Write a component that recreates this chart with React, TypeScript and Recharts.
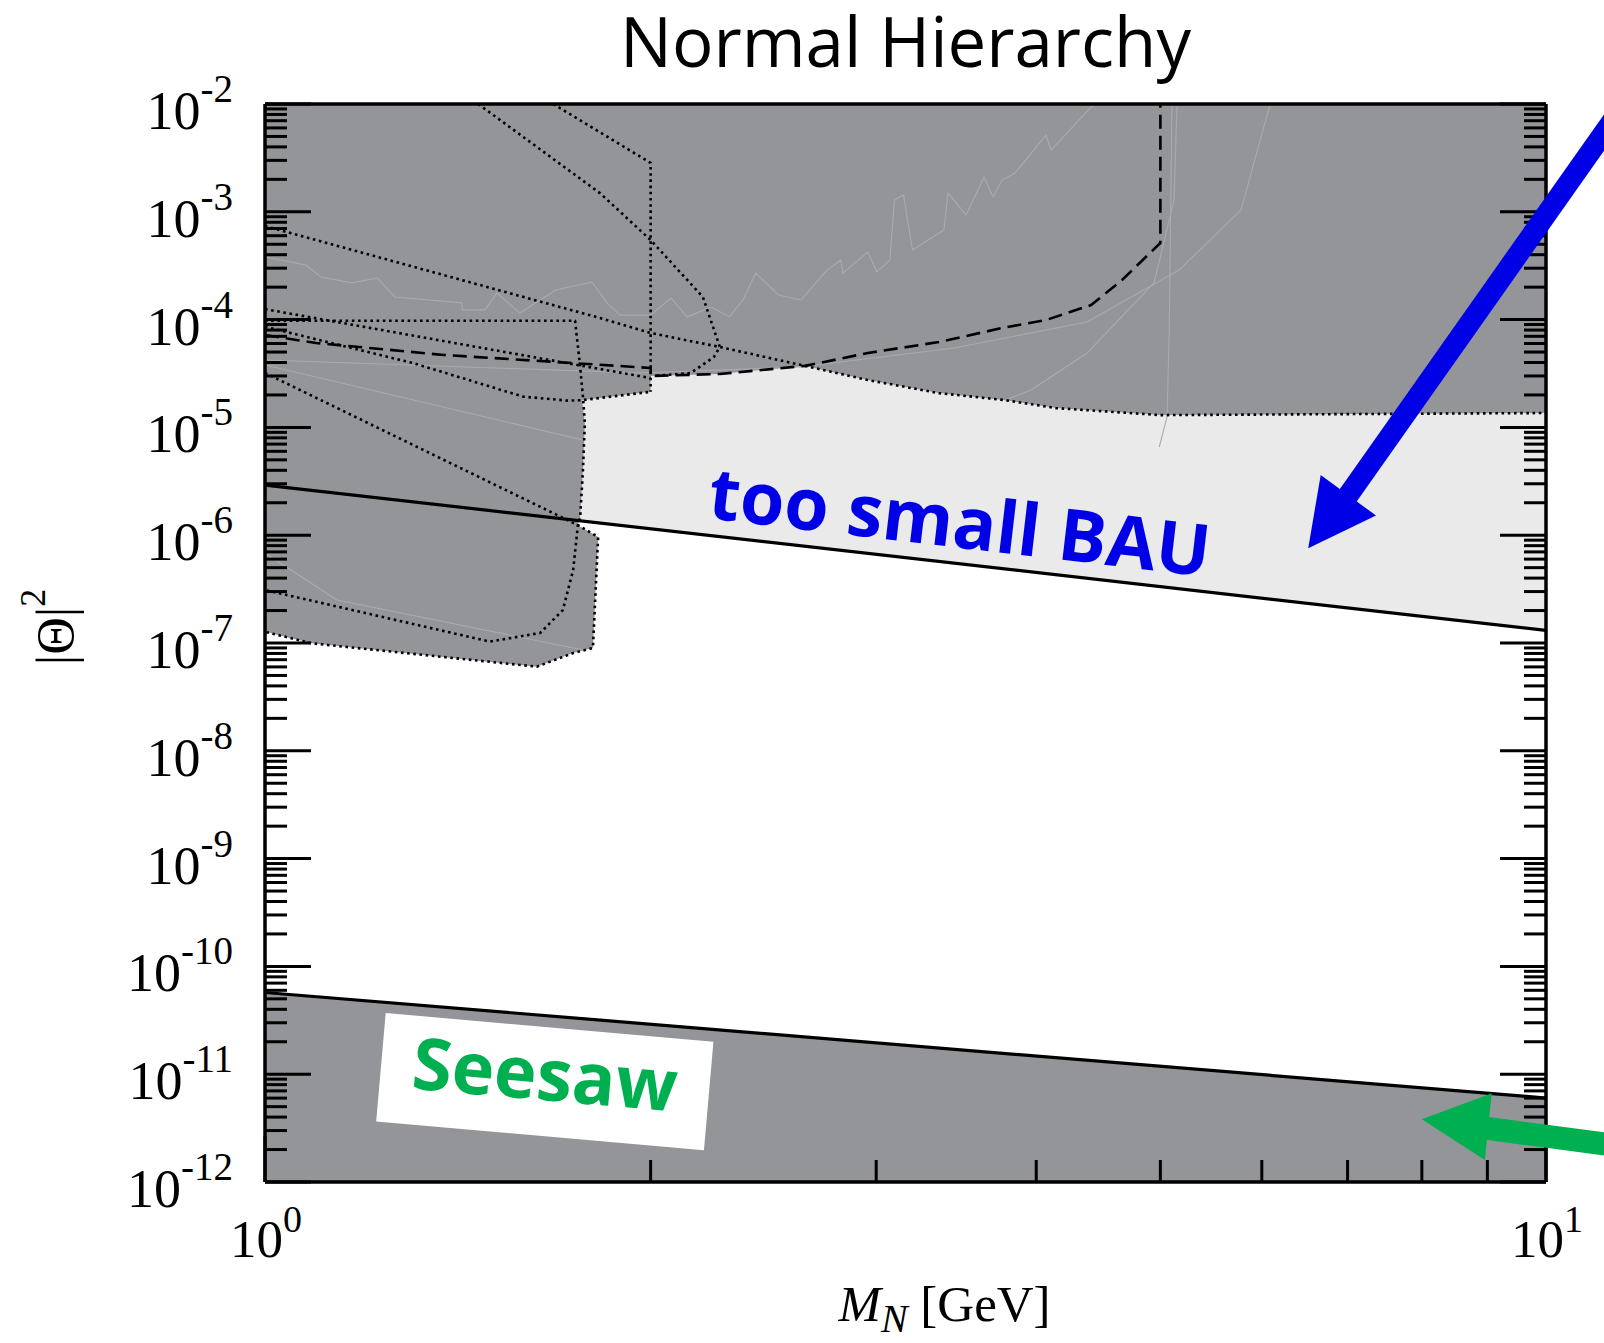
import React from 'react';
import { ScatterChart, Scatter, XAxis, YAxis, ReferenceLine, ReferenceDot, Label } from 'recharts';

type Pt = { x: number; y: number };

// ---------- text ----------
const chartTitle = 'Normal Hierarchy';
const annotationBAU = 'too small BAU';
const annotationSeesaw = 'Seesaw';

// ---------- ticks ----------
const xMajorTicks = [1, 10];
const xTickExponents = ['0', '1'];
const yMajorTicks = [1e-12, 1e-11, 1e-10, 1e-9, 1e-8, 1e-7, 1e-6, 1e-5, 1e-4, 1e-3, 1e-2];
const yTickExponents = ['-12', '-11', '-10', '-9', '-8', '-7', '-6', '-5', '-4', '-3', '-2'];
const minorMultipliers = [2, 3, 4, 5, 6, 7, 8, 9];

// ---------- regions ----------
const seesawLine: Pt[] = [{ x: 1, y: 5.73e-11 }, { x: 10, y: 6.01e-12 }];
const bauLine: Pt[] = [{ x: 1, y: 2.92e-6 }, { x: 10, y: 1.31e-7 }];

const seesawRegion: Pt[] = [
  { x: 1, y: 5.73e-11 }, { x: 10, y: 6.01e-12 }, { x: 10, y: 1e-12 }, { x: 1, y: 1e-12 },
];

const excludedRegion: Pt[] = [
  { x: 1, y: 1e-2 }, { x: 10, y: 1e-2 }, { x: 10, y: 1.36e-5 }, { x: 5.0, y: 1.3e-5 },
  { x: 4.145, y: 1.51e-5 }, { x: 3.782, y: 1.79e-5 }, { x: 3.358, y: 2.08e-5 }, { x: 2.955, y: 2.75e-5 },
  { x: 2.64, y: 3.72e-5 }, { x: 2.265, y: 3.13e-5 }, { x: 2.0, y: 3.0e-5 }, { x: 2.0, y: 2.14e-5 },
  { x: 1.768, y: 1.79e-5 }, { x: 1.777, y: 1.1e-5 }, { x: 1.771, y: 4.03e-6 }, { x: 1.762, y: 1.45e-6 },
  { x: 1.755, y: 1.24e-6 }, { x: 1.82, y: 9.62e-7 }, { x: 1.803, y: 8.99e-8 }, { x: 1.74, y: 8.07e-8 },
  { x: 1.63, y: 6.03e-8 }, { x: 1.0876, y: 9.93e-8 }, { x: 1, y: 1.27e-7 },
];

const tooSmallBauRegion: Pt[] = [
  { x: 1.768, y: 1.79e-5 }, { x: 2.0, y: 2.14e-5 }, { x: 2.0, y: 3.0e-5 }, { x: 2.265, y: 3.13e-5 },
  { x: 2.64, y: 3.72e-5 }, { x: 2.955, y: 2.75e-5 }, { x: 3.358, y: 2.08e-5 }, { x: 3.782, y: 1.79e-5 },
  { x: 4.145, y: 1.51e-5 }, { x: 5.0, y: 1.3e-5 }, { x: 10, y: 1.36e-5 }, { x: 10, y: 1.31e-7 },
  { x: 1.762, y: 1.36e-6 }, { x: 1.771, y: 4.03e-6 }, { x: 1.777, y: 1.1e-5 },
];

// ---------- dotted / dashed bounds ----------
const dottedA: Pt[] = [
  { x: 1.467, y: 1e-2 }, { x: 1.826, y: 1.49e-3 }, { x: 2.0, y: 5.47e-4 }, { x: 2.197, y: 1.62e-4 },
  { x: 2.265, y: 5.57e-5 }, { x: 2.241, y: 4.5e-5 }, { x: 2.15, y: 3.2e-5 }, { x: 2.009, y: 3.0e-5 },
];
const dottedB: Pt[] = [{ x: 1.679, y: 1e-2 }, { x: 2.0, y: 2.84e-3 }, { x: 2.0, y: 2.14e-5 }];
const dottedC: Pt[] = [
  { x: 1, y: 7.38e-4 }, { x: 1.826, y: 1.035e-4 }, { x: 2.0, y: 7.52e-5 }, { x: 2.265, y: 5.57e-5 },
  { x: 2.64, y: 3.72e-5 }, { x: 2.955, y: 2.75e-5 }, { x: 3.358, y: 2.08e-5 }, { x: 3.782, y: 1.79e-5 },
  { x: 4.145, y: 1.51e-5 }, { x: 5.0, y: 1.3e-5 }, { x: 10, y: 1.36e-5 },
];
const dottedD: Pt[] = [{ x: 1, y: 1.25e-4 }, { x: 2.0, y: 2.87e-5 }];
const dottedE: Pt[] = [
  { x: 1, y: 9.77e-5 }, { x: 1.746, y: 9.77e-5 }, { x: 1.762, y: 3.66e-5 }, { x: 1.771, y: 1.91e-5 },
  { x: 1.777, y: 1.1e-5 }, { x: 1.771, y: 4.03e-6 }, { x: 1.762, y: 1.45e-6 }, { x: 1.755, y: 1.24e-6 },
  { x: 1.82, y: 9.62e-7 }, { x: 1.803, y: 8.99e-8 }, { x: 1.74, y: 8.07e-8 }, { x: 1.63, y: 6.03e-8 },
  { x: 1.0876, y: 9.93e-8 }, { x: 1, y: 1.27e-7 },
];
const dottedF: Pt[] = [
  { x: 1, y: 8.59e-5 }, { x: 1.305, y: 3.95e-5 }, { x: 1.59, y: 1.93e-5 }, { x: 1.724, y: 1.77e-5 },
  { x: 1.768, y: 1.79e-5 }, { x: 2.0, y: 2.14e-5 },
];
const dottedG: Pt[] = [
  { x: 1, y: 3.2e-5 }, { x: 1.755, y: 1.24e-6 }, { x: 1.74, y: 4.75e-7 }, { x: 1.708, y: 2.02e-7 },
  { x: 1.64, y: 1.24e-7 }, { x: 1.498, y: 1.03e-7 }, { x: 1.0398, y: 2.79e-7 }, { x: 1, y: 3.1e-7 },
];
const dashedBound: Pt[] = [
  { x: 1, y: 7.19e-5 }, { x: 1.0959, y: 6.07e-5 }, { x: 1.379, y: 4.7e-5 }, { x: 2.0, y: 3.56e-5 },
  { x: 2.001, y: 3.0e-5 }, { x: 2.265, y: 3.13e-5 }, { x: 2.64, y: 3.72e-5 }, { x: 2.955, y: 4.9e-5 },
  { x: 3.358, y: 6.19e-5 }, { x: 3.762, y: 8.36e-5 }, { x: 4.071, y: 9.91e-5 }, { x: 4.415, y: 1.365e-4 },
  { x: 4.667, y: 2.33e-4 }, { x: 5.0, y: 5.14e-4 }, { x: 5.0, y: 1e-2 },
];

// ---------- faint curves ----------
const faintStep: Pt[] = [
  { x: 1, y: 3.81e-4 }, { x: 1.0765, y: 3.21e-4 }, { x: 1.106, y: 2.48e-4 }, { x: 1.169, y: 2.19e-4 },
  { x: 1.224, y: 2.43e-4 }, { x: 1.263, y: 1.62e-4 }, { x: 1.425, y: 1.43e-4 }, { x: 1.425, y: 1.23e-4 },
  { x: 1.485, y: 1.23e-4 }, { x: 1.517, y: 1.77e-4 }, { x: 1.581, y: 1.15e-4 }, { x: 1.687, y: 1.88e-4 },
  { x: 1.8, y: 2.23e-4 }, { x: 1.849, y: 1.43e-4 }, { x: 1.893, y: 1.1e-4 }, { x: 2.0, y: 1.1e-4 },
  { x: 2.075, y: 1.585e-4 }, { x: 2.135, y: 1.06e-4 }, { x: 2.231, y: 1.31e-4 }, { x: 2.304, y: 1.06e-4 },
  { x: 2.361, y: 1.52e-4 }, { x: 2.416, y: 2.7e-4 }, { x: 2.517, y: 1.69e-4 }, { x: 2.621, y: 1.52e-4 },
  { x: 2.746, y: 2.88e-4 }, { x: 2.816, y: 3.57e-4 }, { x: 2.826, y: 2.7e-4 }, { x: 2.955, y: 4.24e-4 },
  { x: 3.004, y: 2.77e-4 }, { x: 3.075, y: 3.57e-4 }, { x: 3.1, y: 1.285e-3 }, { x: 3.151, y: 1.43e-3 },
  { x: 3.202, y: 4.43e-4 }, { x: 3.388, y: 6.78e-4 }, { x: 3.414, y: 1.49e-3 }, { x: 3.526, y: 9.33e-4 },
  { x: 3.642, y: 2.1e-3 }, { x: 3.702, y: 1.37e-3 }, { x: 3.762, y: 1.97e-3 }, { x: 3.851, y: 2.29e-3 },
  { x: 4.071, y: 5.15e-3 }, { x: 4.108, y: 3.74e-3 }, { x: 4.415, y: 9.38e-3 }, { x: 4.46, y: 1e-2 },
];
const faintA: Pt[] = [
  { x: 1, y: 4.22e-5 }, { x: 1.962, y: 3.2e-5 }, { x: 2.616, y: 3.63e-5 }, { x: 3.451, y: 5.46e-5 },
  { x: 4.383, y: 9.51e-5 }, { x: 5.171, y: 2.88e-4 }, { x: 5.78, y: 1.04e-3 }, { x: 6.09, y: 1e-2 },
];
const faintB: Pt[] = [
  { x: 3.782, y: 1.79e-5 }, { x: 3.963, y: 2.22e-5 }, { x: 4.383, y: 4.9e-5 }, { x: 4.943, y: 2.19e-4 },
  { x: 5.124, y: 1.285e-3 }, { x: 5.152, y: 1e-2 },
];
const faintV: Pt[] = [{ x: 5.105, y: 1e-2 }, { x: 5.08, y: 7.52e-5 }, { x: 5.06, y: 1.25e-5 }, { x: 4.99, y: 6.58e-6 }];
const faintC: Pt[] = [{ x: 1, y: 3.79e-5 }, { x: 1.771, y: 7.64e-6 }];
const faintD: Pt[] = [{ x: 1, y: 6.84e-7 }, { x: 1.138, y: 2.51e-7 }, { x: 1.771, y: 8.61e-8 }];

// ---------- annotations (data coordinates) ----------
const bauTextAnchor: Pt = { x: 3.469, y: 7.69e-7 };
const seesawBoxAnchor: Pt = { x: 1.652, y: 8.45e-12 };
const blueArrowShaft: Pt[] = [{ x: 6.967, y: 2.12e-6 }, { x: 12.8, y: 6.0e-2 }];
const blueArrowHead: Pt[] = [{ x: 6.522, y: 7.55e-7 }, { x: 6.67, y: 3.62e-6 }, { x: 7.367, y: 1.52e-6 }];
const greenArrowShaft: Pt[] = [{ x: 8.88, y: 3.21e-12 }, { x: 12.05, y: 1.98e-12 }];
const greenArrowHead: Pt[] = [{ x: 8.0, y: 3.82e-12 }, { x: 9.07, y: 6.66e-12 }, { x: 8.96, y: 1.6e-12 }];

// ---------- derived tick lists ----------
const xTicks: number[] = [1, ...minorMultipliers, 10];
const yTicks: number[] = [...yMajorTicks];
yMajorTicks.slice(0, -1).forEach((m) => minorMultipliers.forEach((k) => yTicks.push(k * m)));

const SERIF = "'Liberation Serif', 'Times New Roman', serif";
const SANS = "'Open Sans', 'DejaVu Sans', sans-serif";
const DARK = '#939598';
const LIGHT = '#eaeaea';
const FAINT = '#a9abae';
const BLUE = '#0000e6';
const GREEN = '#00b050';
const DOT = '2.6 3.6';

const MAJOR_LEN = 46;
const MINOR_LEN = 22;
const TICK_W = 3;

const NoShape = () => <g />;

const polyLine = (fill: string) => (p: any) => {
  const pts = (p.points || []) as { x: number; y: number }[];
  if (!pts.length) return <g />;
  const d = pts.map((q, i) => `${i ? 'L' : 'M'}${q.x},${q.y}`).join('') + 'Z';
  return <path d={d} fill={fill} stroke="none" />;
};
const strokeLine = (stroke: string, width: number, dash?: string) => (p: any) => {
  const pts = (p.points || []) as { x: number; y: number }[];
  if (!pts.length) return <g />;
  const d = pts.map((q, i) => `${i ? 'L' : 'M'}${q.x},${q.y}`).join('');
  return <path d={d} fill="none" stroke={stroke} strokeWidth={width} strokeDasharray={dash} strokeLinejoin="round" />;
};

const polygon = (key: string, data: Pt[], fill: string, z: number) => (
  <Scatter key={key} data={data} shape={NoShape} line={polyLine(fill)} fill={fill}
    isAnimationActive={false} legendType="none" zIndex={z} />
);
const curve = (key: string, data: Pt[], stroke: string, width: number, dash: string | undefined, z: number) => (
  <Scatter key={key} data={data} shape={NoShape} line={strokeLine(stroke, width, dash)} fill={stroke}
    isAnimationActive={false} legendType="none" zIndex={z} />
);

const LeftTick = (props: any) => {
  const { x, y, payload } = props;
  const i = yMajorTicks.indexOf(payload.value);
  const major = i >= 0;
  return (
    <g>
      <line x1={x} y1={y} x2={x + (major ? MAJOR_LEN : MINOR_LEN)} y2={y} stroke="#000" strokeWidth={TICK_W} />
      {major && (
        <text x={x - 32} y={y + 25} textAnchor="end" fontFamily={SERIF} fontSize={54} fill="#000">
          10<tspan dy={-27} fontSize={39}>{yTickExponents[i]}</tspan>
        </text>
      )}
    </g>
  );
};
const RightTick = (props: any) => {
  const { x, y, payload } = props;
  const major = yMajorTicks.indexOf(payload.value) >= 0;
  return <line x1={x} y1={y} x2={x - (major ? MAJOR_LEN : MINOR_LEN)} y2={y} stroke="#000" strokeWidth={TICK_W} />;
};
const BottomTick = (props: any) => {
  const { x, y, payload } = props;
  const i = xMajorTicks.indexOf(payload.value);
  const major = i >= 0;
  return (
    <g>
      <line x1={x} y1={y} x2={x} y2={y - (major ? MAJOR_LEN : MINOR_LEN)} stroke="#000" strokeWidth={TICK_W} />
      {major && (
        <text x={x + 1} y={y + 75} textAnchor="middle" fontFamily={SERIF} fontSize={53} fill="#000">
          10<tspan dy={-25} fontSize={38}>{xTickExponents[i]}</tspan>
        </text>
      )}
    </g>
  );
};
const TopTick = (props: any) => {
  const { x, y, payload } = props;
  const major = xMajorTicks.indexOf(payload.value) >= 0;
  return <line x1={x} y1={y} x2={x} y2={y + (major ? MAJOR_LEN : MINOR_LEN)} stroke="#000" strokeWidth={TICK_W} />;
};

const TitleContent = (p: any) => {
  const vb = p.viewBox || { x: 265, y: 74, width: 1281, height: 30 };
  return (
    <text x={vb.x + vb.width / 2} y={vb.y - 7} textAnchor="middle" fontFamily={SANS} fontSize={69} fill="#000">
      {chartTitle}
    </text>
  );
};
const XLabelContent = (p: any) => {
  const vb = p.viewBox || { x: 265, y: 1182, width: 1281, height: 30 };
  return (
    <text x={vb.x + vb.width / 2 + 39} y={vb.y + 139} textAnchor="middle" fontFamily={SERIF} fontSize={51} fill="#000">
      <tspan fontStyle="italic">M</tspan>
      <tspan fontStyle="italic" fontSize={40} dy={11}>N</tspan>
      <tspan dy={-11}>{'\u00a0[GeV]'}</tspan>
    </text>
  );
};
const YLabelContent = (p: any) => {
  const vb = p.viewBox || { x: 205, y: 104, width: 60, height: 1078 };
  const x = vb.x - 132;
  const y = vb.y + vb.height / 2 - 16;
  return (
    <text x={x} y={y} transform={`rotate(-90 ${x} ${y})`} textAnchor="middle" fontFamily={SERIF} fontSize={52} fill="#000">
      |Θ|<tspan dy={-28} fontSize={36}>2</tspan>
    </text>
  );
};

const BauText = (p: any) => {
  const { cx, cy } = p;
  return (
    <text x={cx} y={cy} transform={`rotate(6.7 ${cx} ${cy})`} textAnchor="middle" fontFamily={SANS}
      fontWeight={700} fontSize={72} fill={BLUE}>
      {annotationBAU}
    </text>
  );
};
const SeesawBox = (p: any) => {
  const { cx, cy } = p;
  return (
    <g transform={`translate(${cx},${cy}) rotate(5)`}>
      <rect x={-164} y={-55} width={329} height={109} fill="#fff" />
      <text x={0} y={18} textAnchor="middle" fontFamily={SANS} fontWeight={700} fontSize={72} fill={GREEN}>
        {annotationSeesaw}
      </text>
    </g>
  );
};

const axisLine = { stroke: '#000', strokeWidth: 3.5 };

export default function App() {
  return (
    <div style={{ position: 'absolute', left: 0, top: 0, width: 1604, height: 1343, background: '#fff' }}>
      <ScatterChart width={1604} height={1343} margin={{ top: 74, right: 18, bottom: 131, left: 205 }}>
        {polygon('light', tooSmallBauRegion, LIGHT, 100)}
        {polygon('dark', excludedRegion, DARK, 110)}
        {polygon('seesaw', seesawRegion, DARK, 110)}
        {curve('f1', faintStep, FAINT, 1.1, undefined, 120)}
        {curve('f2', faintA, FAINT, 1.1, undefined, 120)}
        {curve('f3', faintB, FAINT, 1.1, undefined, 120)}
        {curve('f4', faintV, FAINT, 1.1, undefined, 120)}
        {curve('f5', faintC, FAINT, 1.1, undefined, 120)}
        {curve('f6', faintD, FAINT, 1.1, undefined, 120)}
        {curve('dA', dottedA, '#000', 2.6, DOT, 130)}
        {curve('dB', dottedB, '#000', 2.6, DOT, 130)}
        {curve('dC', dottedC, '#000', 2.6, DOT, 130)}
        {curve('dD', dottedD, '#000', 2.6, DOT, 130)}
        {curve('dE', dottedE, '#000', 2.6, DOT, 130)}
        {curve('dF', dottedF, '#000', 2.6, DOT, 130)}
        {curve('dG', dottedG, '#000', 2.6, DOT, 130)}
        {curve('dash', dashedBound, '#000', 2.6, '14 7', 130)}
        {curve('bau', bauLine, '#000', 3.2, undefined, 140)}
        {curve('seesawLine', seesawLine, '#000', 3.2, undefined, 140)}
        <ReferenceDot x={bauTextAnchor.x} y={bauTextAnchor.y} r={1} shape={BauText} ifOverflow="visible" zIndex={150} />
        <ReferenceDot x={seesawBoxAnchor.x} y={seesawBoxAnchor.y} r={1} shape={SeesawBox} ifOverflow="visible" zIndex={150} />
        <XAxis type="number" dataKey="x" scale="log" domain={[1, 10]} allowDataOverflow ticks={xTicks} interval={0}
          tickSize={0} tickMargin={0} tickLine={false} tick={BottomTick} axisLine={axisLine} height={30}
          label={<Label content={XLabelContent} />} />
        <XAxis xAxisId="top" orientation="top" type="number" scale="log" domain={[1, 10]} allowDataOverflow ticks={xTicks}
          interval={0} tickSize={0} tickMargin={0} tickLine={false} tick={TopTick} axisLine={axisLine} height={30}
          label={<Label content={TitleContent} />} />
        <YAxis type="number" dataKey="y" scale="log" domain={[1e-12, 1e-2]} allowDataOverflow ticks={yTicks} interval={0}
          tickSize={0} tickMargin={0} tickLine={false} tick={LeftTick} axisLine={axisLine} width={60}
          label={<Label content={YLabelContent} />} />
        <YAxis yAxisId="right" orientation="right" type="number" scale="log" domain={[1e-12, 1e-2]} allowDataOverflow
          ticks={yTicks} interval={0} tickSize={0} tickMargin={0} tickLine={false} tick={RightTick} axisLine={axisLine} width={40} />
        {polygon('blueHead', blueArrowHead, BLUE, 3000)}
        {polygon('greenHead', greenArrowHead, GREEN, 3000)}
        <ReferenceLine segment={blueArrowShaft} stroke={BLUE} strokeWidth={21} ifOverflow="visible" zIndex={3000} />
        <ReferenceLine segment={greenArrowShaft} stroke={GREEN} strokeWidth={23} ifOverflow="visible" zIndex={3000} />
      </ScatterChart>
    </div>
  );
}
